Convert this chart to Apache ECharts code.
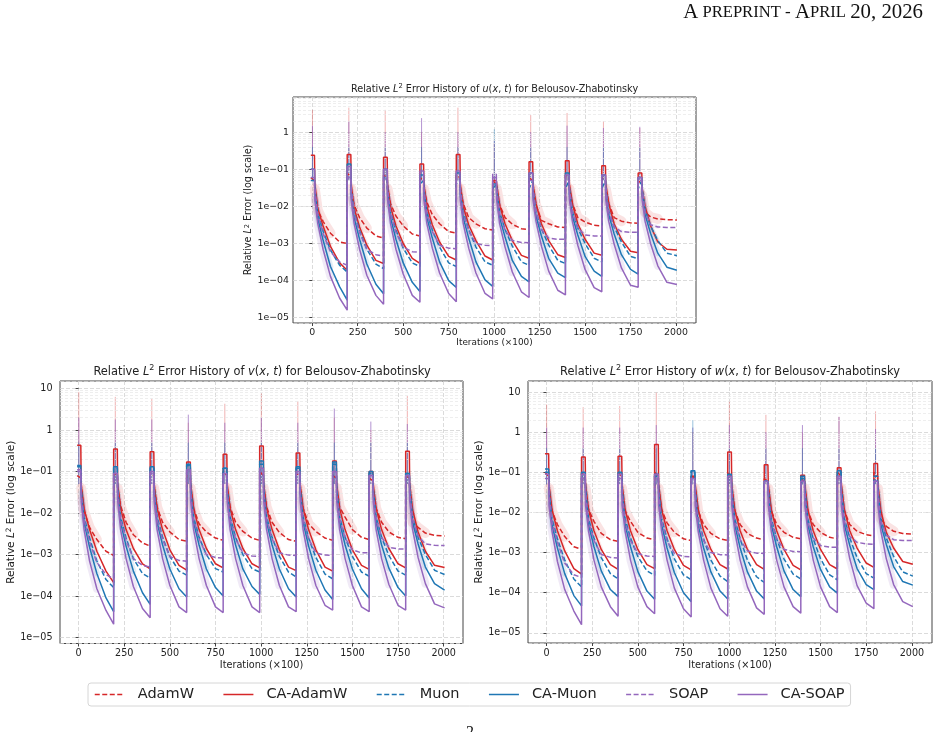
<!DOCTYPE html>
<html>
<head>
<meta charset="utf-8">
<script src="https://cdn.jsdelivr.net/npm/echarts@6/dist/echarts.min.js"></script>
<style>
html, body { margin: 0; padding: 0; background: #fff; }
#chart { width: 941px; height: 732px; }
</style>
</head>
<body>
<div id="chart"></div>
<script>
// restart windows (x in units of 100 iterations)
var segStart = [0, 200, 400, 600, 800, 1000, 1200, 1400, 1600, 1800];
var stepOffsets = [-8, 12, 14, 30, 60, 100, 150, 192];
var tailOffsets = [-8, 12, 14, 30, 60, 100, 150, 205];
var xTicks = [0, 250, 500, 750, 1000, 1250, 1500, 1750, 2000];
var decades = [1e-6, 1e-5, 1e-4, 1e-3, 1e-2, 1e-1, 1, 10];
var minorSteps = [2, 3, 4, 5, 6, 7, 8, 9];
var names = ['AdamW', 'CA-AdamW', 'Muon', 'CA-Muon', 'SOAP', 'CA-SOAP'];

// ---- u(x,t) ----
var uAdamW = [
  [0.06,0.05,0.03,8e-3,3.9e-3,1.9e-3,1.1e-3,1.0e-3],
  [0.08,0.06,0.03,1.1e-2,5e-3,2.6e-3,1.6e-3,1.4e-3],
  [0.07,0.06,0.03,1.2e-2,5.5e-3,3e-3,1.8e-3,1.6e-3],
  [0.06,0.05,0.03,1.3e-2,6e-3,3.4e-3,2.1e-3,1.9e-3],
  [0.07,0.06,0.03,1.2e-2,5e-3,3.4e-3,2.5e-3,2.3e-3],
  [0.05,0.04,0.03,1.1e-2,5e-3,3.3e-3,2.5e-3,2.4e-3],
  [0.06,0.05,0.03,1.1e-2,4.2e-3,3.4e-3,2.8e-3,2.7e-3],
  [0.07,0.06,0.03,1.2e-2,5e-3,3.8e-3,3.1e-3,3.0e-3],
  [0.06,0.05,0.03,1.2e-2,5e-3,4e-3,3.6e-3,3.5e-3],
  [0.05,0.04,0.02,7e-3,5.2e-3,4.6e-3,4.4e-3,4.3e-3]
];
var uCaAdamW = [
  [0.24,0.24,0.04,9e-3,2.9e-3,8.4e-4,3.0e-4,1.9e-4],
  [0.25,0.25,0.04,9e-3,2.8e-3,9e-4,3.5e-4,2.9e-4],
  [0.21,0.21,0.04,1e-2,3e-3,1e-3,4e-4,2.9e-4],
  [0.14,0.14,0.04,1e-2,3.2e-3,1.1e-3,4.5e-4,3.6e-4],
  [0.25,0.25,0.04,1e-2,3.2e-3,1.2e-3,4.6e-4,3.6e-4],
  [0.05,0.05,0.04,1.1e-2,3.4e-3,1.2e-3,4.8e-4,4.0e-4],
  [0.16,0.16,0.04,1.2e-2,3.4e-3,1.2e-3,5e-4,4.2e-4],
  [0.17,0.17,0.04,1.2e-2,3.4e-3,1.3e-3,5.5e-4,4.8e-4],
  [0.125,0.125,0.04,1.2e-2,3.4e-3,1.3e-3,6.2e-4,5.6e-4],
  [0.08,0.08,0.03,1e-2,3e-3,1.1e-3,7e-4,6.7e-4]
];
var uMuon = [
  [0.05,0.05,0.03,6.5e-3,2.1e-3,6.7e-4,2.6e-4,1.7e-4],
  [0.06,0.06,0.03,7e-3,2.2e-3,7e-4,2.8e-4,2.1e-4],
  [0.06,0.06,0.03,7e-3,2.3e-3,7.5e-4,3e-4,2.4e-4],
  [0.04,0.05,0.03,7e-3,2.3e-3,8e-4,3e-4,2.4e-4],
  [0.04,0.05,0.03,7e-3,2.4e-3,8e-4,3.2e-4,2.6e-4],
  [0.03,0.04,0.03,7e-3,2.4e-3,8.5e-4,3.2e-4,2.6e-4],
  [0.03,0.05,0.03,7e-3,2.5e-3,9e-4,3.5e-4,2.9e-4],
  [0.03,0.05,0.03,7.5e-3,2.6e-3,1e-3,4e-4,3.2e-4],
  [0.03,0.05,0.03,7.5e-3,2.8e-3,1.1e-3,4.5e-4,3.9e-4],
  [0.03,0.05,0.03,8e-3,3e-3,1.2e-3,5.5e-4,4.7e-4]
];
var uCaMuon = [
  [0.1,0.1,0.02,4.8e-3,1.2e-3,2.4e-4,6.9e-5,3.0e-5],
  [0.14,0.14,0.02,5e-3,1.3e-3,2.8e-4,8e-5,4.4e-5],
  [0.1,0.1,0.02,5e-3,1.3e-3,3e-4,9e-5,5.1e-5],
  [0.07,0.07,0.02,5e-3,1.4e-3,3.2e-4,1e-4,6.5e-5],
  [0.08,0.08,0.02,5e-3,1.4e-3,3.2e-4,1.05e-4,7e-5],
  [0.04,0.04,0.02,5e-3,1.5e-3,3.5e-4,1.3e-4,9.3e-5],
  [0.08,0.08,0.02,5.5e-3,1.6e-3,4e-4,1.6e-4,1.2e-4],
  [0.08,0.08,0.02,5.5e-3,1.7e-3,4.5e-4,1.8e-4,1.3e-4],
  [0.07,0.07,0.02,6e-3,1.8e-3,5e-4,2e-4,1.5e-4],
  [0.06,0.06,0.02,6e-3,1.9e-3,5.5e-4,2.3e-4,1.9e-4]
];
var uSoap = [
  [0.06,0.06,0.03,6e-3,1.8e-3,6e-4,3.2e-4,2.6e-4],
  [0.06,0.06,0.03,6.5e-3,2e-3,7e-4,5e-4,4.6e-4],
  [0.06,0.06,0.03,6.5e-3,2e-3,8e-4,6e-4,5.8e-4],
  [0.05,0.05,0.03,6.5e-3,2.1e-3,9e-4,7.5e-4,7.2e-4],
  [0.05,0.05,0.03,6.5e-3,2.2e-3,1e-3,9e-4,8.8e-4],
  [0.074,0.074,0.03,6.5e-3,2.3e-3,1.2e-3,1.07e-3,1.05e-3],
  [0.05,0.05,0.03,7e-3,2.4e-3,1.4e-3,1.3e-3,1.3e-3],
  [0.05,0.05,0.03,7e-3,2.6e-3,1.7e-3,1.6e-3,1.6e-3],
  [0.05,0.05,0.03,7e-3,2.8e-3,2.1e-3,2.0e-3,2.0e-3],
  [0.05,0.05,0.03,7e-3,3.2e-3,2.8e-3,2.7e-3,2.7e-3]
];
var uCaSoap = [
  [0.1,0.1,0.015,3.5e-3,6.8e-4,1.3e-4,3.4e-5,1.6e-5],
  [0.12,0.12,0.015,3.5e-3,7e-4,1.4e-4,4e-5,2.3e-5],
  [0.1,0.1,0.015,3.5e-3,7e-4,1.5e-4,4e-5,2.6e-5],
  [0.09,0.09,0.015,3.5e-3,7.5e-4,1.6e-4,4.5e-5,2.7e-5],
  [0.09,0.09,0.015,3.5e-3,7.5e-4,1.6e-4,4.5e-5,3.2e-5],
  [0.06,0.06,0.015,3.5e-3,8e-4,1.7e-4,5e-5,3.5e-5],
  [0.08,0.08,0.015,4e-3,8.5e-4,1.8e-4,5.5e-5,4.1e-5],
  [0.07,0.07,0.015,4e-3,9e-4,2e-4,6.5e-5,5e-5],
  [0.07,0.07,0.015,4e-3,9.5e-4,2.2e-4,7.5e-5,6.6e-5],
  [0.06,0.06,0.015,4e-3,1e-3,2.5e-4,9e-5,7.9e-5]
];
var uSpikeRed = [4.0, 4.6, 4.0, 1.0, 4.6, 0.5, 2.9, 3.3, 2.0, 1.3];
var uSpikePurple = [1.5, 2.0, 1.0, 2.4, 1.0, 0.6, 1.0, 1.5, 1.3, 1.4];
var uSpikeBlue = [0.4, 0.4, 0.4, 0.4, 0.4, 1.2, 0.4, 0.4, 0.4, 0.4];

// ---- v(x,t) ----
var vAdamW = [
  [0.08,0.07,0.04,1.1e-2,4.5e-3,2.3e-3,1.2e-3,9.5e-4],
  [0.09,0.08,0.04,1.5e-2,6e-3,3e-3,1.9e-3,1.6e-3],
  [0.09,0.08,0.04,1.4e-2,6e-3,3.5e-3,2.3e-3,2.1e-3],
  [0.08,0.07,0.04,1.3e-2,5.5e-3,3.5e-3,2.5e-3,2.2e-3],
  [0.1,0.08,0.04,1.4e-2,6e-3,3.6e-3,2.5e-3,2.2e-3],
  [0.1,0.08,0.04,1.4e-2,6e-3,3.4e-3,2.3e-3,2.1e-3],
  [0.09,0.08,0.04,1.3e-2,5.5e-3,3.6e-3,2.5e-3,2.2e-3],
  [0.08,0.07,0.04,1.4e-2,8e-3,4e-3,2.6e-3,2.3e-3],
  [0.07,0.06,0.04,1.3e-2,6e-3,3.5e-3,2.6e-3,2.4e-3],
  [0.08,0.07,0.04,6e-3,4.5e-3,3.3e-3,2.9e-3,2.8e-3]
];
var vCaAdamW = [
  [0.43,0.43,0.05,1.3e-2,4e-3,1.2e-3,4e-4,2.1e-4],
  [0.35,0.35,0.05,1.3e-2,4e-3,1.4e-3,6e-4,4.5e-4],
  [0.30,0.30,0.05,1.3e-2,4e-3,1.3e-3,5.5e-4,4.2e-4],
  [0.17,0.17,0.05,1.3e-2,4e-3,1.4e-3,6e-4,4.8e-4],
  [0.26,0.26,0.05,1.3e-2,4e-3,1.4e-3,6e-4,4.8e-4],
  [0.41,0.41,0.05,1.3e-2,4e-3,1.3e-3,5e-4,4.1e-4],
  [0.28,0.28,0.05,1.3e-2,4e-3,1.3e-3,5e-4,4e-4],
  [0.18,0.18,0.05,1.3e-2,4e-3,1.3e-3,5.5e-4,4.4e-4],
  [0.10,0.10,0.05,1.3e-2,4e-3,1.4e-3,6e-4,4.8e-4],
  [0.31,0.31,0.05,1.2e-2,3.5e-3,1.2e-3,5.5e-4,4.9e-4]
];
var vMuon = [
  [0.14,0.14,0.04,8e-3,2.5e-3,7e-4,2.5e-4,1.6e-4],
  [0.12,0.12,0.04,8e-3,2.5e-3,8e-4,3.5e-4,2.7e-4],
  [0.12,0.12,0.04,8e-3,2.6e-3,9e-4,4e-4,3.2e-4],
  [0.14,0.14,0.04,8e-3,2.6e-3,1e-3,4.6e-4,3.8e-4],
  [0.12,0.12,0.04,8e-3,2.6e-3,1e-3,4.6e-4,3.8e-4],
  [0.15,0.15,0.04,8e-3,2.6e-3,9e-4,3.8e-4,2.9e-4],
  [0.12,0.12,0.04,8e-3,2.5e-3,8.5e-4,3.4e-4,2.6e-4],
  [0.15,0.15,0.04,8e-3,2.6e-3,9e-4,3.8e-4,3e-4],
  [0.09,0.09,0.04,8e-3,2.6e-3,9.5e-4,4e-4,3.2e-4],
  [0.09,0.09,0.04,8e-3,2.6e-3,1e-3,4.2e-4,3.3e-4]
];
var vCaMuon = [
  [0.13,0.13,0.03,6e-3,1.5e-3,3.5e-4,9e-5,4.2e-5],
  [0.13,0.13,0.03,6e-3,1.6e-3,4e-4,1.2e-4,6.3e-5],
  [0.13,0.13,0.03,6e-3,1.7e-3,4.5e-4,1.5e-4,9.5e-5],
  [0.15,0.15,0.03,6e-3,1.7e-3,4.5e-4,1.6e-4,1e-4],
  [0.12,0.12,0.03,6e-3,1.7e-3,4.5e-4,1.7e-4,1.1e-4],
  [0.18,0.18,0.03,6e-3,1.7e-3,4.5e-4,1.5e-4,9.5e-5],
  [0.13,0.13,0.03,6e-3,1.6e-3,4.2e-4,1.4e-4,8.3e-5],
  [0.17,0.17,0.03,6e-3,1.7e-3,4.5e-4,1.5e-4,9e-5],
  [0.1,0.1,0.03,6e-3,1.7e-3,4.7e-4,1.6e-4,1e-4],
  [0.09,0.09,0.03,6e-3,1.8e-3,5e-4,2e-4,1.4e-4]
];
var vSoap = [
  [0.1,0.1,0.03,7e-3,2e-3,6.5e-4,3.3e-4,2.6e-4],
  [0.09,0.09,0.03,7e-3,2.2e-3,8e-4,5.5e-4,5e-4],
  [0.09,0.09,0.03,7e-3,2.3e-3,9e-4,7.2e-4,6.9e-4],
  [0.1,0.1,0.03,7e-3,2.4e-3,1e-3,8.5e-4,8.3e-4],
  [0.08,0.08,0.03,7e-3,2.4e-3,1.1e-3,9.2e-4,9e-4],
  [0.1,0.1,0.03,7e-3,2.4e-3,1.1e-3,9.7e-4,9.5e-4],
  [0.09,0.09,0.03,7e-3,2.4e-3,1.1e-3,9.7e-4,9.5e-4],
  [0.1,0.1,0.03,7e-3,2.5e-3,1.3e-3,1.1e-3,1.1e-3],
  [0.08,0.08,0.03,7e-3,2.6e-3,1.5e-3,1.37e-3,1.35e-3],
  [0.08,0.08,0.03,7e-3,2.8e-3,1.8e-3,1.67e-3,1.65e-3]
];
var vCaSoap = [
  [0.11,0.11,0.02,4e-3,7e-4,1.5e-4,4.5e-5,2.1e-5],
  [0.09,0.09,0.02,4e-3,8e-4,1.7e-4,5e-5,3e-5],
  [0.1,0.1,0.02,4e-3,8e-4,1.8e-4,5.5e-5,4e-5],
  [0.11,0.11,0.02,4e-3,8e-4,1.8e-4,5.5e-5,4e-5],
  [0.09,0.09,0.02,4e-3,8e-4,1.8e-4,5.5e-5,4e-5],
  [0.12,0.12,0.02,4e-3,8e-4,1.8e-4,5.5e-5,4.2e-5],
  [0.1,0.1,0.02,4e-3,8e-4,1.8e-4,6e-5,4.6e-5],
  [0.1,0.1,0.02,4e-3,8e-4,1.8e-4,5.5e-5,4.2e-5],
  [0.08,0.08,0.02,4e-3,8e-4,1.9e-4,6e-5,4.6e-5],
  [0.08,0.08,0.02,4e-3,8.5e-4,2e-4,6.5e-5,5.2e-5]
];
var vSpikeRed = [8.3, 6.3, 5.7, 1.5, 4.3, 7.6, 4.9, 2.0, 1.0, 6.6];
var vSpikePurple = [2.0, 1.8, 1.8, 2.35, 1.5, 2.0, 1.5, 3.3, 1.6, 1.4];
var vSpikeBlue = [0.5, 0.5, 0.5, 0.5, 0.5, 0.5, 0.5, 0.5, 0.5, 0.5];

// ---- w(x,t) ----
var wAdamW = [
  [0.1,0.08,0.04,1.1e-2,5e-3,2.5e-3,1.4e-3,1.2e-3],
  [0.1,0.08,0.04,1.2e-2,6e-3,3e-3,2.1e-3,1.9e-3],
  [0.1,0.08,0.04,1.1e-2,6e-3,3.2e-3,2.3e-3,2.1e-3],
  [0.1,0.08,0.04,1.2e-2,5.5e-3,3.2e-3,2.2e-3,2e-3],
  [0.08,0.07,0.04,1.1e-2,5e-3,3e-3,2.2e-3,2e-3],
  [0.1,0.08,0.04,1.1e-2,5e-3,3e-3,2.3e-3,2.1e-3],
  [0.07,0.06,0.04,1.1e-2,5e-3,3.2e-3,2.4e-3,2.2e-3],
  [0.07,0.06,0.04,1.1e-2,5e-3,3.2e-3,2.4e-3,2.2e-3],
  [0.1,0.08,0.04,1.1e-2,5e-3,3.4e-3,2.8e-3,2.6e-3],
  [0.1,0.08,0.04,7e-3,4.5e-3,3.4e-3,3e-3,2.9e-3]
];
var wCaAdamW = [
  [0.29,0.29,0.05,1.2e-2,3.5e-3,1.1e-3,4e-4,2.9e-4],
  [0.24,0.24,0.05,1.2e-2,3.5e-3,1.2e-3,5e-4,3.8e-4],
  [0.25,0.25,0.05,1.2e-2,3.5e-3,1.2e-3,5e-4,4e-4],
  [0.49,0.49,0.05,1.2e-2,3.5e-3,1.2e-3,4.8e-4,3.7e-4],
  [0.08,0.08,0.05,1.2e-2,3.5e-3,1.2e-3,5e-4,3.9e-4],
  [0.32,0.32,0.05,1.2e-2,3.5e-3,1.2e-3,5e-4,3.8e-4],
  [0.155,0.155,0.05,1.2e-2,3.5e-3,1.2e-3,4.8e-4,3.7e-4],
  [0.085,0.085,0.05,1.2e-2,3.5e-3,1.2e-3,5e-4,3.9e-4],
  [0.13,0.13,0.05,1.2e-2,3.5e-3,1.3e-3,5.5e-4,4.3e-4],
  [0.165,0.165,0.05,1.1e-2,3.2e-3,1.3e-3,6e-4,5.1e-4]
];
var wMuon = [
  [0.1,0.1,0.04,7e-3,2.2e-3,6.5e-4,2.2e-4,1.4e-4],
  [0.08,0.08,0.04,7e-3,2.3e-3,7.5e-4,3e-4,2.2e-4],
  [0.09,0.09,0.04,7e-3,2.3e-3,8e-4,3.5e-4,2.7e-4],
  [0.08,0.08,0.04,7e-3,2.2e-3,7e-4,2.8e-4,2.1e-4],
  [0.11,0.11,0.04,7e-3,2.2e-3,6.5e-4,2.6e-4,1.9e-4],
  [0.08,0.08,0.04,7e-3,2.2e-3,6.5e-4,2.5e-4,1.8e-4],
  [0.06,0.06,0.04,7e-3,2.2e-3,7e-4,2.9e-4,2.2e-4],
  [0.07,0.07,0.04,7e-3,2.2e-3,7e-4,2.8e-4,2.1e-4],
  [0.1,0.1,0.04,7e-3,2.3e-3,7.5e-4,3e-4,2.3e-4],
  [0.08,0.08,0.04,7e-3,2.3e-3,8e-4,3.3e-4,2.6e-4]
];
var wCaMuon = [
  [0.12,0.12,0.03,5e-3,1.3e-3,3e-4,8.5e-5,4.7e-5],
  [0.1,0.1,0.03,5e-3,1.4e-3,3.5e-4,1.2e-4,8e-5],
  [0.1,0.1,0.03,5e-3,1.4e-3,3.4e-4,1.1e-4,6.9e-5],
  [0.09,0.09,0.03,5e-3,1.3e-3,3.2e-4,1e-4,6e-5],
  [0.11,0.11,0.03,5e-3,1.3e-3,3.3e-4,1.1e-4,7e-5],
  [0.09,0.09,0.03,5e-3,1.3e-3,3.3e-4,1.1e-4,7e-5],
  [0.06,0.06,0.03,5e-3,1.4e-3,3.5e-4,1.2e-4,8e-5],
  [0.08,0.08,0.03,5e-3,1.4e-3,3.8e-4,1.4e-4,9.8e-5],
  [0.11,0.11,0.03,5e-3,1.5e-3,4e-4,1.6e-4,1.2e-4],
  [0.06,0.06,0.03,5e-3,1.6e-3,4.5e-4,1.9e-4,1.55e-4]
];
var wSoap = [
  [0.07,0.07,0.03,6e-3,1.8e-3,5.5e-4,2.8e-4,2.4e-4],
  [0.07,0.07,0.03,6e-3,2e-3,9e-4,7.6e-4,7.3e-4],
  [0.07,0.07,0.03,6e-3,2e-3,9.5e-4,8.2e-4,8e-4],
  [0.07,0.07,0.03,6e-3,2e-3,9.5e-4,8e-4,7.8e-4],
  [0.07,0.07,0.03,6e-3,2e-3,1e-3,8.9e-4,8.7e-4],
  [0.07,0.07,0.03,6e-3,2.1e-3,1.1e-3,9.7e-4,9.5e-4],
  [0.05,0.05,0.03,6e-3,2.2e-3,1.2e-3,1.07e-3,1.05e-3],
  [0.06,0.06,0.03,6e-3,2.3e-3,1.5e-3,1.37e-3,1.35e-3],
  [0.07,0.07,0.03,6e-3,2.5e-3,1.8e-3,1.65e-3,1.6e-3],
  [0.06,0.06,0.03,6e-3,2.7e-3,2.1e-3,2e-3,2e-3]
];
var wCaSoap = [
  [0.09,0.09,0.015,3.5e-3,6e-4,1.2e-4,3.5e-5,1.6e-5],
  [0.09,0.09,0.015,3.5e-3,6.5e-4,1.4e-4,4.5e-5,2.6e-5],
  [0.09,0.09,0.015,3.5e-3,6.5e-4,1.4e-4,4.5e-5,3e-5],
  [0.09,0.09,0.015,3.5e-3,6.5e-4,1.3e-4,4e-5,2.5e-5],
  [0.07,0.07,0.015,3.5e-3,6.5e-4,1.3e-4,4e-5,2.6e-5],
  [0.08,0.08,0.015,3.5e-3,6.5e-4,1.4e-4,4.2e-5,2.9e-5],
  [0.06,0.06,0.015,3.5e-3,6.5e-4,1.4e-4,4.5e-5,3.1e-5],
  [0.06,0.06,0.015,3.5e-3,6.5e-4,1.4e-4,4.5e-5,3.2e-5],
  [0.08,0.08,0.015,3.5e-3,7e-4,1.5e-4,5.5e-5,4e-5],
  [0.06,0.06,0.015,3.5e-3,7e-4,1.6e-4,6e-5,4.5e-5]
];
var wSpikeRed = [4.9, 4.2, 4.5, 9.6, 1.0, 6.0, 2.7, 1.0, 2.4, 3.3];
var wSpikePurple = [1.3, 1.3, 1.3, 1.5, 1.3, 1.5, 1.0, 1.5, 2.4, 1.2];
var wSpikeBlue = [0.4, 0.4, 0.4, 0.4, 2.0, 0.4, 0.4, 0.4, 0.4, 0.4];

var FONT = 'DejaVu Sans';
var TXT = '#222';
var RED = '#d62728', BLUE = '#1f77b4', PURPLE = '#9467bd';
var styles = [
  { color: RED, dash: true, band: 10, bandOp: 0.13 },
  { color: RED, dash: false, band: 4, bandOp: 0.10 },
  { color: BLUE, dash: true, band: 4, bandOp: 0.10 },
  { color: BLUE, dash: false, band: 6, bandOp: 0.12 },
  { color: PURPLE, dash: true, band: 4, bandOp: 0.10 },
  { color: PURPLE, dash: false, band: 8, bandOp: 0.14 }
];

var panels = [
  { fn: 'u', data: [uAdamW, uCaAdamW, uMuon, uCaMuon, uSoap, uCaSoap],
    spikes: [uSpikeRed, uSpikePurple, uSpikeBlue],
    grid: { left: 293, top: 97, width: 403, height: 226 },
    xMin: -106, xMax: 2110, yMin: 7.2e-6, yMax: 8.9,
    tick: 9.4, yName: 9.6, xName: 8.9, title: 9.7, yMargin: 4, yGap: 39, xGap: 14,
    titleAt: [494.5, 89.3] },
  { fn: 'v', data: [vAdamW, vCaAdamW, vMuon, vCaMuon, vSoap, vCaSoap],
    spikes: [vSpikeRed, vSpikePurple, vSpikeBlue],
    grid: { left: 60, top: 381, width: 403, height: 262.5 },
    xMin: -102, xMax: 2106, yMin: 7.2e-6, yMax: 15.2,
    tick: 9.6, yName: 10.5, xName: 9.7, title: 11.4, yMargin: 7.5, yGap: 42, xGap: 17,
    titleAt: [262, 371.7] },
  { fn: 'w', data: [wAdamW, wCaAdamW, wMuon, wCaMuon, wSoap, wCaSoap],
    spikes: [wSpikeRed, wSpikePurple, wSpikeBlue],
    grid: { left: 528, top: 381, width: 404, height: 262 },
    xMin: -101, xMax: 2110, yMin: 5.6e-6, yMax: 18.8,
    tick: 9.6, yName: 10.5, xName: 9.7, title: 11.4, yMargin: 7.5, yGap: 42, xGap: 17,
    titleAt: [730, 371.7] }
];

function toPoints(segs) {
  var pts = [];
  segs.forEach(function (seg, k) {
    var offs = k === segs.length - 1 ? tailOffsets : stepOffsets;
    seg.forEach(function (v, j) { pts.push([segStart[k] + offs[j], v]); });
  });
  return pts;
}

// noisy band: only the fast-decay part of each window (samples 2..5), broken between windows
function bandPoints(segs) {
  var pts = [];
  segs.forEach(function (seg, k) {
    var offs = k === segs.length - 1 ? tailOffsets : stepOffsets;
    for (var j = 2; j <= 5; j++) pts.push([segStart[k] + offs[j], seg[j]]);
    pts.push([segStart[k] + offs[5], '-']);
  });
  return pts;
}

function spikePoints(tops) {
  var pts = [];
  tops.forEach(function (t, k) {
    pts.push([segStart[k] + 1, 0.05]);
    pts.push([segStart[k] + 1, t]);
    pts.push([segStart[k] + 1, '-']);
  });
  return pts;
}

function sciLabel(v) {
  var lg = Math.log10(v);
  var e = Math.round(lg);
  if (Math.abs(lg - e) > 1e-6) return '';
  if (e >= 0) return String(Math.round(Math.pow(10, e)));
  return '1e\u2212' + (e > -10 ? '0' : '') + (-e);
}

function richFor(size) {
  return {
    i: { fontFamily: FONT, fontStyle: 'italic', fontSize: size, color: TXT },
    s: { fontFamily: FONT, fontSize: size * 0.7, color: TXT, verticalAlign: 'top' }
  };
}

var grids = [], xAxes = [], yAxes = [], series = [], graphics = [];

panels.forEach(function (p, gi) {
  grids.push({
    left: p.grid.left, top: p.grid.top, width: p.grid.width, height: p.grid.height,
    show: true, borderColor: '#444', borderWidth: 1, backgroundColor: 'transparent',
    outerBoundsMode: 'none', containLabel: false
  });
  xAxes.push({
    gridIndex: gi, type: 'value', min: p.xMin, max: p.xMax,
    name: 'Iterations (\u00d7100)', nameLocation: 'middle', nameGap: p.xGap,
    nameTextStyle: { fontFamily: FONT, fontSize: p.xName, color: TXT },
    axisLine: { show: false },
    axisTick: { show: true, length: 3, customValues: xTicks, lineStyle: { color: '#444' } },
    axisLabel: { customValues: xTicks, fontFamily: FONT, fontSize: p.tick, color: TXT, margin: 5,
                 formatter: function (v) { return String(v); } },
    splitLine: { show: true, lineStyle: { color: '#d2d2d2', type: [4, 2], width: 0.8 } }
  });
  yAxes.push({
    gridIndex: gi, type: 'log', logBase: 10, min: p.yMin, max: p.yMax, splitNumber: 10,
    name: 'Relative {i|L}{s|2} Error (log scale)', nameLocation: 'middle', nameGap: p.yGap,
    nameTextStyle: { fontFamily: FONT, fontSize: p.yName, color: TXT, rich: richFor(p.yName) },
    axisLine: { show: false },
    axisTick: { show: true, length: 3, lineStyle: { color: '#444' } },
    axisLabel: { formatter: sciLabel, fontFamily: FONT, fontSize: p.tick, color: TXT, margin: p.yMargin,
                 showMinLabel: false, showMaxLabel: false },
    splitLine: { show: true, lineStyle: { color: '#d2d2d2', type: [4, 2], width: 0.8 } }
  });

  // minor log grid
  var minorLines = [];
  decades.forEach(function (d) {
    minorSteps.forEach(function (m) {
      var v = d * m;
      if (v > p.yMin && v < p.yMax) minorLines.push({ yAxis: v });
    });
  });
  series.push({
    type: 'line', xAxisIndex: gi, yAxisIndex: gi, data: [], silent: true, z: 1,
    markLine: {
      silent: true, animation: false, symbol: ['none', 'none'], label: { show: false },
      lineStyle: { color: '#e6e6e6', type: [3, 2], width: 0.7 }, data: minorLines
    }
  });

  // shaded noise bands
  p.data.forEach(function (segs, si) {
    var st = styles[si];
    series.push({
      type: 'line', name: names[si] + ' band', xAxisIndex: gi, yAxisIndex: gi,
      data: bandPoints(segs), symbol: 'none', silent: true, z: 2,
      lineStyle: { color: st.color, width: st.band, opacity: st.bandOp, cap: 'round', join: 'round' }
    });
  });

  // restart spikes
  [[RED, 0.35], [PURPLE, 0.7], [BLUE, 0.45]].forEach(function (c, ci) {
    series.push({
      type: 'line', name: 'spike' + ci, xAxisIndex: gi, yAxisIndex: gi,
      data: spikePoints(p.spikes[ci]), symbol: 'none', silent: true, z: 3,
      lineStyle: { color: c[0], width: 1, opacity: c[1] }
    });
  });

  // smoothed curves
  p.data.forEach(function (segs, si) {
    var st = styles[si];
    series.push({
      type: 'line', name: names[si], xAxisIndex: gi, yAxisIndex: gi,
      data: toPoints(segs), symbol: 'none', showSymbol: false, silent: true, z: 5,
      itemStyle: { color: st.color },
      lineStyle: { color: st.color, width: 1.5, type: st.dash ? [5, 2.5] : 'solid' }
    });
  });

  graphics.push({
    type: 'text', x: p.titleAt[0], y: p.titleAt[1], silent: true,
    style: {
      text: 'Relative {i|L}{s|2} Error History of {i|' + p.fn + '}({i|x}, {i|t}) for Belousov-Zhabotinsky',
      fontFamily: FONT, fontSize: p.title, fill: TXT, align: 'center', verticalAlign: 'middle',
      lineHeight: p.title * 1.3, rich: richFor(p.title)
    }
  });
});

graphics.push({
  type: 'text', right: 18, top: 2, silent: true,
  style: {
    text: '{b|A} {s|PREPRINT} - {b|A}{s|PRIL} {b|20, 2026}',
    fontFamily: 'Liberation Serif', fontSize: 17, fill: '#111',
    rich: {
      b: { fontFamily: 'Liberation Serif', fontSize: 20.8, fill: '#111' },
      s: { fontFamily: 'Liberation Serif', fontSize: 16.6, fill: '#111' }
    }
  }
});
graphics.push({
  type: 'text', x: 470, y: 725, silent: true,
  style: { text: '2', fontFamily: 'Liberation Serif', fontSize: 16, fill: '#111', align: 'center', verticalAlign: 'top' }
});

var option = {
  animation: false,
  backgroundColor: '#fff',
  grid: grids,
  xAxis: xAxes,
  yAxis: yAxes,
  legend: {
    data: names, left: 88, top: 683, padding: [4, 6], itemGap: 28.7, itemWidth: 30, itemHeight: 12,
    borderColor: '#d6d6d6', borderWidth: 1, borderRadius: 3, backgroundColor: '#fff',
    selectedMode: false,
    itemStyle: { opacity: 0, borderWidth: 0 },
    lineStyle: { width: 1.5 },
    textStyle: { fontFamily: FONT, fontSize: 14.5, color: TXT, padding: [0, 0, 0, 8] }
  },
  graphic: graphics,
  series: series
};

var chart = echarts.init(document.getElementById('chart'), null, { renderer: 'canvas' });
chart.setOption(option);
</script>
</body>
</html>
